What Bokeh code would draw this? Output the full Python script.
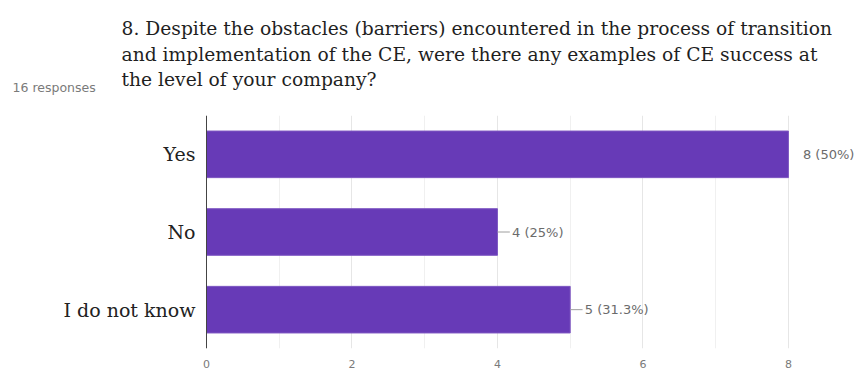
from bokeh.plotting import figure
from bokeh.models import Range1d, FixedTicker, ColumnDataSource, Span
from bokeh.layouts import column
from bokeh.embed import file_html
from bokeh.resources import INLINE
from bokeh.core.properties import value

categories = ["Yes", "No", "I do not know"]
counts = [8, 4, 5]
percent_labels = ["8 (50%)", "4 (25%)", "5 (31.3%)"]
x_ticks = [0, 2, 4, 6, 8]
minor_x_ticks = [1, 3, 5, 7]
title_lines = [
    "8. Despite the obstacles (barriers) encountered in the process of transition",
    "and implementation of the CE, were there any examples of CE success at",
    "the level of your company?",
]
responses_text = "16 responses"

W = 857
HEADER_H = 115
CHART_H = 372 - HEADER_H
AXIS_X = 206          # pixel position of the value 0
PX_PER_UNIT = 72.74   # pixels per response

SERIF = "DejaVu Serif"
SANS = "DejaVu Sans"

# ---------- header (question text) ----------
h = figure(width=W, height=HEADER_H, x_range=Range1d(0, W), y_range=Range1d(HEADER_H, 0),
           output_backend="svg", toolbar_location=None, title=None,
           x_axis_location=None, y_axis_location=None,
           min_border_left=0, min_border_right=0, min_border_top=0, min_border_bottom=0)
h.outline_line_color = None
h.grid.visible = False
h.background_fill_color = "white"
h.border_fill_color = "white"
h.text(x=[121] * len(title_lines), y=[28 + 25.5 * i for i in range(len(title_lines))],
       text=title_lines, text_font=value(SERIF), text_font_size="18.7px",
       text_color="#1f1f1f", text_baseline="alphabetic", text_align="left")
h.text(x=[12], y=[87], text=[responses_text], text_font=value(SANS),
       text_font_size="12.5px", text_color="#7a7a7a", text_baseline="alphabetic",
       text_align="left")

# ---------- bar chart (frame spans the full width) ----------
factors = list(reversed(categories))
p = figure(
    width=W, height=CHART_H,
    y_range=factors,
    x_range=Range1d(-AXIS_X / PX_PER_UNIT, (W - AXIS_X) / PX_PER_UNIT),
    output_backend="svg", toolbar_location=None, title=None,
    y_axis_location=None,
    min_border_left=0, min_border_right=0,
    min_border_top=0, min_border_bottom=24,
)
p.background_fill_color = "white"
p.border_fill_color = "white"
p.outline_line_color = None

src = ColumnDataSource(dict(cat=categories, cnt=counts, lab=percent_labels))
p.hbar(y="cat", right="cnt", left=0, height=0.6, source=src,
       fill_color="#673AB7", line_color="#7E57C2", line_width=1)

# vertical axis line at 0
p.add_layout(Span(location=0, dimension="height", line_color="#444444", line_width=1))

# category labels
p.text(x=[0] * len(categories), y=categories, text=categories, x_offset=-11,
       text_font=value(SERIF), text_font_size="19px", text_color="#222222",
       text_baseline="middle", text_align="right")

# leader lines (not beside the longest bar) and value labels
mx = max(counts)
lead_y, lead_x0, lead_x1 = [], [], []
for c, v in zip(categories, counts):
    if v < mx:
        lead_y.append(c); lead_x0.append(v); lead_x1.append(v + 0.17)
p.segment(x0=lead_x0, x1=lead_x1, y0=lead_y, y1=lead_y, line_color="#9e9e9e", line_width=1)
p.text(x=[v + 0.2 for v in counts], y=categories, text=percent_labels,
       text_font=value(SANS), text_font_size="13px", text_color="#6b6b6b",
       text_baseline="middle", text_align="left")

# x axis
p.xaxis.ticker = FixedTicker(ticks=x_ticks, minor_ticks=minor_x_ticks)
p.xaxis.axis_line_color = None
p.xaxis.major_tick_line_color = None
p.xaxis.minor_tick_line_color = None
p.xaxis.major_label_text_font = SANS
p.xaxis.major_label_text_font_size = "11px"
p.xaxis.major_label_text_color = "#7a7a7a"
p.xaxis.major_label_standoff = 5

p.xgrid.grid_line_color = "#e6e6e6"
p.xgrid.minor_grid_line_color = "#f0f0f0"
p.xgrid.bounds = (1, 8)
p.ygrid.grid_line_color = None

layout = column(h, p, spacing=0)
open("out.html", "w").write(file_html(layout, INLINE))
